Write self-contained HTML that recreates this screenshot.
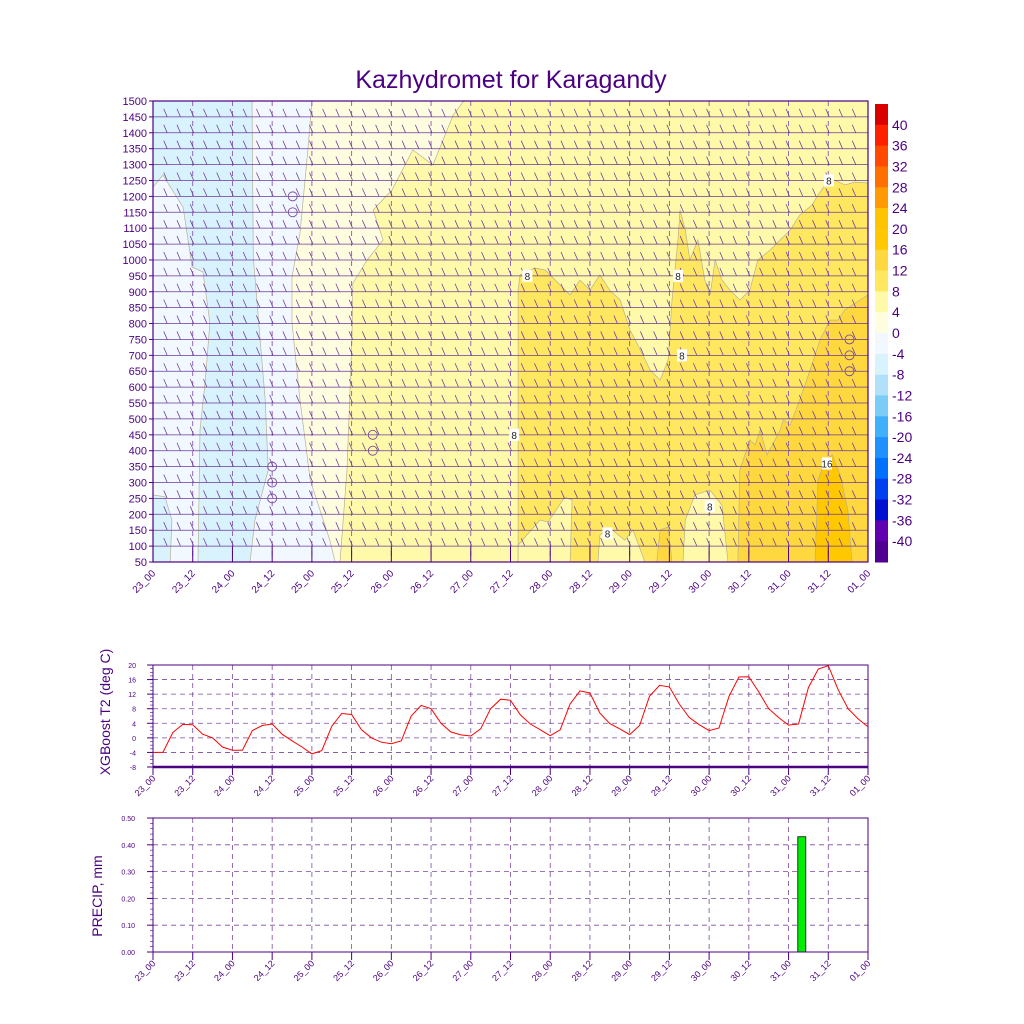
<!DOCTYPE html>
<html><head><meta charset="utf-8">
<style>
html,body{margin:0;padding:0;background:#fff}
svg{display:block;font-family:"Liberation Sans",sans-serif}
</style></head>
<body>
<svg id="chart" width="1024" height="1024" viewBox="0 0 1024 1024">
<text x="511" y="88" text-anchor="middle" font-size="25" fill="#4b0082">Kazhydromet for Karagandy</text>
<g id="topPanel"></g>
<g id="cbar"></g>
<g id="t2"></g>
<g id="pr"></g>
<text transform="translate(110,712) rotate(-90)" text-anchor="middle" font-size="14" fill="#4b0082">XGBoost T2 (deg C)</text>
<text transform="translate(102,896) rotate(-90)" text-anchor="middle" font-size="14" fill="#4b0082">PRECIP, mm</text>
</svg>
<script>
// ---- data ----
const xTickLabels = ["23_00","23_12","24_00","24_12","25_00","25_12","26_00","26_12","27_00","27_12","28_00","28_12","29_00","29_12","30_00","30_12","31_00","31_12","01_00"];
const levelLabels = [50,100,150,200,250,300,350,400,450,500,550,600,650,700,750,800,850,900,950,1000,1050,1100,1150,1200,1250,1300,1350,1400,1450,1500];
const cbarLabels = [40,36,32,28,24,20,16,12,8,4,0,-4,-8,-12,-16,-20,-24,-28,-32,-36,-40];
const cbarColors = ["#d90000","#ff2000","#ff4a00","#ff7000","#ff9a00","#ffc400","#ffc800","#ffd840","#ffe860","#fffaaa","#fffde0","#f2f8ff","#d8f2fe","#b0e0fa","#7bcdf8","#40b0fb","#2090ff","#0070ff","#0040f0","#0010d0","#6000b0","#500090"];
const region0to4 = [[0,1500],[93.9,1500],[90.7,1456],[84.6,1299],[78.5,1346],[72.2,1220],[66.5,1157],[69.5,1063],[64.7,1000],[60.4,927],[60.1,748],[58.6,339],[56.5,50],[0,50]];
const regionM4to0 = [[0,1500],[48,1500],[46.8,1346],[44.4,1085],[42,946],[42,802],[44.4,560],[47.5,308],[53.4,119],[55,50],[0,50]];
const regionM8toM4 = [[0,1500],[29.9,1500],[30.3,1009],[32.3,758],[33.9,560],[34.8,339],[30.8,182],[29.3,50],[13.6,50],[14.2,465],[15.8,622],[17.2,802],[15.1,962],[11.8,978],[9.1,1166],[3,1267],[0,1229]];
const regionM8toM4b = [[0,261],[3.6,255],[5.7,182],[5.2,50],[0,50]];
const region8to12 = [[110.3,50],[110.3,905],[110.9,953],[115.4,975],[118.5,968],[123,921],[126,890],[129,937],[132,905],[135,953],[138,905],[141.1,874],[144.1,780],[147.2,717],[150.2,654],[153.2,622],[155.6,685],[156.8,874],[158.6,1063],[159.2,1157],[160.8,1094],[162.2,1000],[164.6,1063],[166.7,937],[168.3,890],[169.8,1000],[171.9,937],[174.3,905],[177.3,874],[180.3,905],[182.7,1000],[186.4,1031],[189.5,1063],[192.5,1094],[195.4,1141],[199.1,1173],[200.9,1204],[203.1,1236],[206,1251],[209,1236],[212.1,1245],[216,1242],[216,50]];
const pocketA = [[110.3,103],[116.9,182],[119.4,176],[124.4,254],[126.6,245],[126,50],[110.3,50]];
const pocketB = [[134.4,50],[135,135],[138,157],[142.5,119],[145,151],[148.6,50]];
const pocketC = [[160.1,50],[160.8,182],[163.7,261],[168.3,276],[171.9,229],[173.7,50]];
const pocketD = [[152.2,50],[153.2,151],[155.6,160],[156.8,50]];
const region12to16 = [[176.7,50],[177.3,339],[180.3,434],[181.9,418],[183.4,465],[185.5,387],[189.5,465],[190.4,497],[192.5,481],[195.4,560],[198.5,654],[201.5,748],[204.5,811],[206.9,811],[209,843],[213.6,874],[216,890],[216,50]];
const region16to20 = [[200,50],[200.9,308],[203.1,371],[205.2,387],[207.6,324],[209.9,214],[211.2,50]];
const circleMarks = [[42.2,1200],[42.2,1150],[36,350],[36,300],[36,250],[66.4,450],[66.4,400],[210.4,750],[210.4,700],[210.4,650]];
const contourLabels = [["8",113.1,950],["8",158.6,950],["8",109.1,450],["8",159.8,700],["8",137.3,140],["8",168.2,225],["8",204.2,1250],["16",203.6,360]];
const t2Values = [-4,-4,1.5,3.7,3.6,1,0,-2.5, -3.4,-3.4,2,3.4,3.8,1,-0.8,-2.5, -4.4,-3.5,3.2,6.7,6.4,2.2,0,-1.2, -1.6,-0.8,6,8.9,8,4,1.6,0.8, 0.5,2.5,8,10.6,10.3,6.3,3.8,2.2, 0.6,2.2,9.3,12.9,12.3,6.8,3.9,2.5, 0.9,3.4,11.4,14.4,14,9.3,5.6,3.6, 2,2.7,11.4,16.7,16.8,12.6,8,5.6, 3.5,3.8,13.8,18.9,19.8,13.2,8,5.2, 3];
const t2Ticks = [-8,-4,0,4,8,12,16,20];
const precipHours = [196];
const precipValues = [0.43];
const precipTicks = [0,0.1,0.2,0.3,0.4,0.5];

// ---- scales ----
const NS="http://www.w3.org/2000/svg";
const X0=153,X1=868,HSPAN=216;
const xs = h => X0 + h*(X1-X0)/HSPAN;
const TY0=562,TY1=101;
const ly = p => TY0 - (p-50)*(TY0-TY1)/1450;
const PUR="#4b0082";
function mk(tag,attrs,parent){const e=document.createElementNS(NS,tag);for(const k in attrs)e.setAttribute(k,attrs[k]);parent.appendChild(e);return e;}
const topG=document.getElementById('topPanel');
function poly(pts,fill,name){
  const e=mk('polygon',{points:pts.map(p=>xs(p[0]).toFixed(1)+','+ly(p[1]).toFixed(1)).join(' '),fill:fill,stroke:"#b8b090","stroke-width":"0.7"},topG);
  
  
}
const bg=mk('rect',{x:X0,y:TY1,width:X1-X0,height:TY0-TY1,fill:"#fffaaa"},topG);


poly(region0to4,"#fffde0","contour-0-4");
poly(regionM4to0,"#f2f8ff","contour-m4-0");
poly(regionM8toM4,"#d8f2fe","contour-m8-m4");
poly(regionM8toM4b,"#d8f2fe","contour-m8-m4-blob");
poly(region8to12,"#ffe860","contour-8-12");
poly(pocketA,"#fffaaa","contour-pocket-a");
poly(pocketB,"#fffaaa","contour-pocket-b");
poly(pocketC,"#fffaaa","contour-pocket-c");
poly(pocketD,"#ffd840","contour-pocket-d");
poly(region12to16,"#ffd840","contour-12-16");
poly(region16to20,"#ffc800","contour-16-20");
for(let i=1;i<xTickLabels.length-1;i++){
  const x=xs(i*12);
  const l=mk('line',{x1:x,x2:x,y1:TY1,y2:TY0,stroke:"#8a5ab0","stroke-width":"0.9","stroke-dasharray":"5,5"},topG);
  
  
  const t=mk('line',{x1:x,x2:x,y1:TY0-16,y2:TY0,stroke:PUR,"stroke-width":"1"},topG);
  
  
}
let d="";
for(let j=1;j<levelLabels.length-1;j++){
  const y=ly(levelLabels[j]);
  d+=`M${X0},${y}H${X1}`;
  for(let h=4;h<HSPAN;h+=4){const x=xs(h);d+=`M${x-2.5},${y-8}L${x+1},${y}`;}
}
const barbs=mk('path',{d:d,stroke:"#6a3a9a","stroke-width":"0.75",fill:"none"},topG);


circleMarks.forEach(c=>{
  const e=mk('circle',{cx:xs(c[0]),cy:ly(c[1]),r:4.5,fill:"none",stroke:"#7a4aa0","stroke-width":"0.9"},topG);
  
  
});
contourLabels.forEach(c=>{
  const x=xs(c[1]),y=ly(c[2]);
  const r=mk('rect',{x:x-5,y:y-6,width:10,height:12,fill:"#fff"},topG);
  
  
  const t=mk('text',{x:x,y:y+4,"text-anchor":"middle","font-size":"10",fill:"#222"},topG);
  t.textContent=c[0];
  
  
});
const frame=mk('rect',{x:X0,y:TY1,width:X1-X0,height:TY0-TY1,fill:"none",stroke:PUR,"stroke-width":"1.2"},topG);


levelLabels.forEach(p=>{
  const t=mk('text',{x:147,y:ly(p)+4,"text-anchor":"end","font-size":"11",fill:PUR},topG);
  t.textContent=p;
  
  
  const tk=mk('line',{x1:X0-4,x2:X0,y1:ly(p),y2:ly(p),stroke:PUR},topG);
  
  
});
function xlabels(g,y,fs){
  xTickLabels.forEach((s,i)=>{
    const x=xs(i*12);
    const t=mk('text',{transform:`translate(${x+3},${y}) rotate(-45)`,"text-anchor":"end","font-size":fs,fill:PUR},g);
    t.textContent=s;
    
    
  });
}
xlabels(topG,574,10);

const cb=document.getElementById('cbar');
const CB0=104,CBH=(562-104)/cbarColors.length;
cbarColors.forEach((c,i)=>{
  const r=mk('rect',{x:875,y:CB0+i*CBH,width:13,height:CBH+0.5,fill:c},cb);
  
  
});
cbarLabels.forEach((v,i)=>{
  const t=mk('text',{x:892,y:CB0+(i+1)*CBH+5,"font-size":"14",fill:PUR},cb);
  t.textContent=v;
  
  
});

const g2=document.getElementById('t2');
const AY0=767,AY1=665;
const ty = v => AY0 - (v+8)*(AY0-AY1)/28;
t2Ticks.forEach(v=>{
  const y=ty(v);
  if(v>-8&&v<20){const l=mk('line',{x1:X0,x2:X1,y1:y,y2:y,stroke:"#7a4aa0","stroke-width":"0.8","stroke-dasharray":"5,4"},g2);
  
  }
  const t=mk('text',{x:136,y:y+3,"text-anchor":"end","font-size":"7",fill:PUR},g2);
  t.textContent=v;
  
  
  const tk=mk('line',{x1:X0-6,x2:X0,y1:y,y2:y,stroke:PUR},g2);
  
  
});
for(let v=-8;v<=20;v++){const tk=mk('line',{x1:X0-3,x2:X0,y1:ty(v),y2:ty(v),stroke:PUR,"stroke-width":"0.6"},g2);

}
for(let i=1;i<xTickLabels.length-1;i++){
  const x=xs(i*12);
  const l=mk('line',{x1:x,x2:x,y1:AY1,y2:AY0,stroke:"#7a4aa0","stroke-width":"0.8","stroke-dasharray":"5,4"},g2);
  
  
}
for(let i=0;i<xTickLabels.length;i++){const x=xs(i*12);const tk=mk('line',{x1:x,x2:x,y1:AY0,y2:AY0+8,stroke:PUR},g2);

}
const fr2=mk('rect',{x:X0,y:AY1,width:X1-X0,height:AY0-AY1,fill:"none",stroke:PUR,"stroke-width":"1"},g2);


const bl=mk('line',{x1:X0,x2:X1,y1:AY0,y2:AY0,stroke:PUR,"stroke-width":"2.5"},g2);


const t2line=mk('polyline',{points:t2Values.map((v,i)=>xs(i*3).toFixed(1)+','+ty(v).toFixed(1)).join(' '),fill:"none",stroke:"#ff0000","stroke-width":"1"},g2);


xlabels(g2,779,9);

const g3=document.getElementById('pr');
const PY0=952,PY1=818;
const py = v => PY0 - v*(PY0-PY1)/0.5;
precipTicks.forEach(v=>{
  const y=py(v);
  if(v>0&&v<0.5){const l=mk('line',{x1:X0,x2:X1,y1:y,y2:y,stroke:"#7a4aa0","stroke-width":"0.8","stroke-dasharray":"5,4"},g3);
  
  }
  const t=mk('text',{x:135,y:y+3,"text-anchor":"end","font-size":"7",fill:PUR},g3);
  t.textContent=v.toFixed(2);
  
  
  const tk=mk('line',{x1:X0-6,x2:X0,y1:y,y2:y,stroke:PUR},g3);
  
  
});
for(let k=0;k<=25;k++){const y=py(k*0.02);const tk=mk('line',{x1:X0-3,x2:X0,y1:y,y2:y,stroke:PUR,"stroke-width":"0.6"},g3);

}
for(let i=1;i<xTickLabels.length-1;i++){
  const x=xs(i*12);
  const l=mk('line',{x1:x,x2:x,y1:PY1,y2:PY0,stroke:"#7a4aa0","stroke-width":"0.8","stroke-dasharray":"5,4"},g3);
  
  
}
for(let i=0;i<xTickLabels.length;i++){const x=xs(i*12);const tk=mk('line',{x1:x,x2:x,y1:PY0,y2:PY0+8,stroke:PUR},g3);

}
precipValues.forEach((v,i)=>{
  const x=xs(precipHours[i]);
  const b=mk('rect',{x:x-4,y:py(v),width:8,height:PY0-py(v),fill:"#00ee00",stroke:"#000","stroke-width":"0.8"},g3);
  
  
});
const fr3=mk('rect',{x:X0,y:PY1,width:X1-X0,height:PY0-PY1,fill:"none",stroke:PUR,"stroke-width":"1"},g3);


xlabels(g3,964,9);
</script>
</body></html>
